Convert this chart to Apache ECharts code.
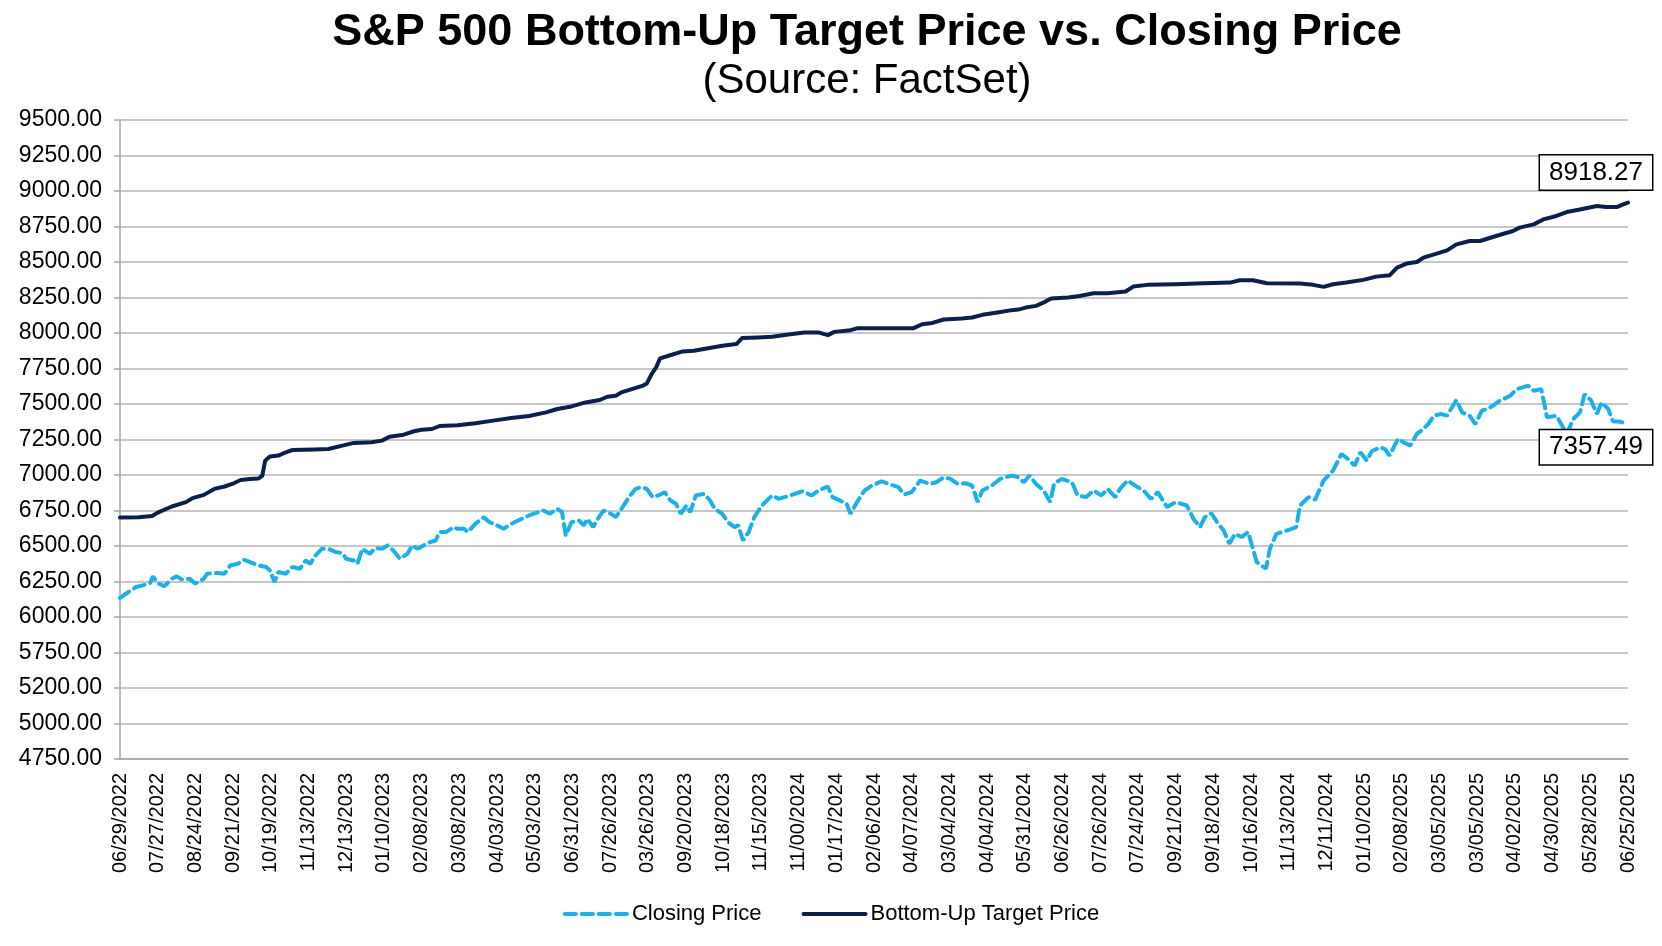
<!DOCTYPE html>
<html>
<head>
<meta charset="utf-8">
<title>S&amp;P 500 Bottom-Up Target Price vs. Closing Price</title>
<script src="https://cdn.jsdelivr.net/npm/echarts@6/dist/echarts.min.js"></script>
<style>
  html, body { margin: 0; padding: 0; background: #fff; }
  #chart { width: 1662px; height: 946px; }
</style>
</head>
<body>
<div id="chart"></div>
<script>
// x tick labels, one every 4 weeks (text as printed in the source)
const tickLabels = [
  '06/29/2022', '07/27/2022', '08/24/2022', '09/21/2022', '10/19/2022', '11/13/2022',
  '12/13/2023', '01/10/2023', '02/08/2023', '03/08/2023', '04/03/2023', '05/03/2023',
  '06/31/2023', '07/26/2023', '03/26/2023', '09/20/2023', '10/18/2023', '11/15/2023',
  '11/00/2024', '01/17/2024', '02/06/2024', '04/07/2024', '03/04/2024', '04/04/2024',
  '05/31/2024', '06/26/2024', '07/26/2024', '07/24/2024', '09/21/2024', '09/18/2024',
  '10/16/2024', '11/13/2024', '12/11/2024', '01/10/2025', '02/08/2025', '03/05/2025',
  '03/05/2025', '04/02/2025', '04/30/2025', '05/28/2025', '06/25/2025'
];

// y tick labels from bottom to top, as printed (the lower ones are not evenly numbered)
const yTickLabels = [
  '4750.00', '5000.00', '5200.00', '5750.00', '6000.00', '6250.00', '6500.00',
  '6750.00', '7000.00', '7250.00', '7500.00', '7750.00', '8000.00', '8250.00',
  '8500.00', '8750.00', '9000.00', '9250.00', '9500.00'
];

// positions in weeks from 06/29/2022
const targetWeek = [
  0, 2, 3.4, 4, 5.5, 7, 7.7, 8.9, 10, 11.1, 11.9, 12.8, 13.8, 14.7, 15.1, 15.4, 15.9,
  16.8, 17.6, 18.3, 20.6, 22.1, 23.6, 24.8, 26.7, 27.8, 28.6, 30.1, 31.2, 32, 33.1,
  33.9, 35.8, 37.7, 39.6, 41.5, 43.4, 45.2, 46.4, 47.9, 49.4, 50.9, 51.7, 52.6, 53.2,
  54.3, 55.5, 55.9, 56.4, 56.9, 57.3, 58.2, 59.7, 60.9, 62.4, 63.9, 65.4, 66, 67.7,
  69.2, 70.7, 72.6, 74.1, 75.1, 75.8, 77.5, 78.3, 84.2, 85.1, 86.2, 87.4, 89.3, 90.4,
  91.5, 93.1, 94.6, 95.3, 96.1, 97.2, 98.2, 98.8, 100.6, 101.8, 103.3, 104.8, 106.7,
  107.5, 109, 112, 115, 117.8, 118.8, 120.2, 121.7, 125.2, 126.6, 127.7, 128.7, 130.1,
  131.9, 133.3, 134.7, 135.5, 136.5, 137.6, 138.3, 139.7, 140.8, 141.8, 143.2, 144.3,
  145.4, 146.8, 147.8, 148.5, 150, 151, 152.4, 153.5, 154.9, 156.7, 157.7, 158.8,
  159.5, 160
];
const targetPrice = [
  6700, 6702, 6712, 6735, 6778, 6809, 6837, 6860, 6902, 6919, 6937, 6965, 6972, 6975,
  6996, 7101, 7130, 7137, 7160, 7176, 7179, 7183, 7207, 7226, 7230, 7242, 7270, 7284,
  7308, 7319, 7324, 7345, 7350, 7364, 7383, 7401, 7415, 7441, 7465, 7483, 7511, 7528,
  7551, 7558, 7582, 7605, 7630, 7645, 7711, 7760, 7821, 7840, 7870, 7875, 7893, 7910,
  7922, 7964, 7968, 7973, 7987, 8004, 8004, 7985, 8008, 8020, 8034, 8034, 8062, 8071,
  8095, 8102, 8109, 8128, 8144, 8161, 8165, 8179, 8191, 8221, 8243, 8250, 8261, 8280,
  8280, 8292, 8327, 8339, 8343, 8350, 8355, 8371, 8371, 8350, 8348, 8339, 8325, 8343,
  8355, 8374, 8397, 8406, 8460, 8489, 8500, 8531, 8559, 8582, 8624, 8648, 8648, 8671,
  8699, 8718, 8742, 8765, 8800, 8824, 8852, 8870, 8894, 8887, 8887, 8906, 8918.27
];

const closeWeek = [
  0, 0.9, 1.7, 2.4, 3.2, 3.5, 4, 4.7, 5.5, 6, 6.6, 7.4, 8, 8.9, 9.25, 10.4, 11.1, 11.7,
  12.5, 13.2, 13.8, 14.7, 15.5, 15.9, 16.4, 16.8, 17.6, 18.3, 19.1, 19.7, 20.2, 20.6,
  21.4, 22.1, 22.9, 23.6, 24, 24.8, 25.2, 25.7, 26.5, 27.1, 27.8, 28.4, 29, 29.7, 30.5,
  31, 31.6, 32.2, 32.9, 33.5, 33.9, 34.6, 35.4, 35.8, 36.5, 36.9, 37.7, 38.6, 39.2, 40,
  40.7, 41.5, 42.6, 43.4, 44.1, 44.9, 45.6, 46.4, 46.9, 47.3, 47.9, 48.7, 49.2, 49.6,
  50.2, 50.7, 51.3, 52.1, 52.6, 53.2, 54, 54.7, 55.3, 55.9, 56.5, 57.1, 57.8, 58.4, 59,
  59.5, 60.1, 60.5, 61.1, 62, 62.6, 63.1, 63.9, 64.5, 65.2, 65.6, 66.1, 66.7, 67.3, 68.1,
  69.2, 69.9, 71.1, 72.4, 73.4, 74.1, 75.1, 75.6, 76.4, 77.1, 77.5, 78.3, 79, 79.8, 80.8,
  81.7, 82.6, 83.2, 84, 84.9, 85.9, 86.6, 87.4, 88.1, 88.9, 89.7, 90.4, 91, 91.5, 92.5,
  93.4, 94.6, 95.3, 95.9, 96.5, 97.2, 98, 98.7, 99.1, 99.9, 101, 101.6, 102.5, 103.3,
  104.1, 104.8, 105.6, 106.1, 106.9, 107.7, 108.6, 109.4, 110.1, 111.1, 112, 113.2,
  113.9, 114.6, 115.1, 115.8, 116.4, 117.1, 117.7, 118.3, 119, 119.7, 120.1, 120.6,
  121.6, 122, 122.7, 123.8, 124.8, 125.2, 126.1, 126.8, 127.7, 128.7, 129.6, 130.3, 131,
  131.6, 132.3, 132.8, 133.7, 134.2, 134.7, 135.6, 136.2, 136.9, 137.6, 138.3, 138.8,
  139.4, 140.2, 140.8, 141.8, 142.4, 143.2, 143.8, 144.5, 145.4, 146.4, 147.5, 148.2,
  149.4, 150, 150.8, 151.4, 152.4, 153.5, 154.2, 154.9, 155.4, 156.1, 156.7, 157.2,
  157.9, 158.4, 159.2, 160
];
const closingPrice = [
  6135, 6176, 6211, 6223, 6239, 6286, 6239, 6216, 6270, 6286, 6263, 6270, 6235, 6270,
  6305, 6310, 6305, 6363, 6375, 6403, 6387, 6363, 6352, 6328, 6246, 6317, 6305, 6352,
  6340, 6398, 6375, 6422, 6480, 6480, 6457, 6450, 6410, 6398, 6375, 6480, 6445, 6487,
  6480, 6504, 6469, 6410, 6445, 6504, 6480, 6504, 6527, 6539, 6598, 6598, 6633, 6621,
  6621, 6598, 6656, 6703, 6668, 6645, 6621, 6656, 6691, 6715, 6731, 6750, 6727, 6762,
  6738, 6574, 6668, 6680, 6645, 6691, 6633, 6691, 6750, 6727, 6703, 6762, 6844, 6902,
  6914, 6902, 6844, 6856, 6879, 6820, 6797, 6727, 6785, 6738, 6856, 6867, 6820, 6762,
  6727, 6668, 6633, 6645, 6539, 6598, 6703, 6785, 6856, 6832, 6856, 6886, 6856, 6891,
  6919, 6844, 6820, 6797, 6727, 6820, 6891, 6926, 6956, 6933, 6914, 6863, 6879, 6961,
  6937, 6949, 6984, 6973, 6937, 6942, 6926, 6809, 6891, 6926, 6973, 6996, 6984, 6949,
  6996, 6937, 6891, 6809, 6937, 6973, 6949, 6856, 6844, 6891, 6856, 6902, 6844, 6902,
  6961, 6926, 6891, 6832, 6879, 6774, 6809, 6785, 6691, 6633, 6703, 6731, 6668, 6609,
  6516, 6586, 6563, 6598, 6504, 6387, 6340, 6480, 6586, 6609, 6633, 6785, 6844, 6825,
  6961, 7031, 7148, 7113, 7066, 7160, 7101, 7167, 7195, 7183, 7136, 7254, 7230, 7207,
  7289, 7324, 7359, 7418, 7429, 7418, 7528, 7441, 7418, 7359, 7453, 7476, 7523, 7558,
  7605, 7629, 7593, 7605, 7406, 7418, 7289, 7394, 7441, 7570, 7523, 7429, 7511, 7465,
  7378, 7375, 7357.49
];

const NAVY = '#0b1f4b';
const SKY = '#1bb0ea';
const FONT = '"Liberation Sans", Arial, sans-serif';

const pairs = (xs, ys) => xs.map((x, i) => [x, ys[i]]);
const lastTarget = targetPrice[targetPrice.length - 1];
const lastClose = closingPrice[closingPrice.length - 1];
const lastWeek = targetWeek[targetWeek.length - 1];

const boxLabel = (offset) => ({
  show: true,
  position: 'inside',
  offset: offset,
  formatter: (p) => p.value.toFixed(2),
  color: '#000',
  fontFamily: FONT,
  fontSize: 26,
  backgroundColor: '#fff',
  borderColor: '#000',
  borderWidth: 1.5,
  padding: [5, 9, 3, 9],
});

const chart = echarts.init(document.getElementById('chart'));
chart.setOption({
  backgroundColor: '#fff',
  animation: false,
  title: [
    {
      text: 'S&P 500 Bottom-Up Target Price vs. Closing Price',
      left: 862,
      textAlign: 'center',
      top: 3,
      textStyle: { fontFamily: FONT, fontSize: 45, fontWeight: 'bold', color: '#000', lineHeight: 50 },
    },
    {
      text: '(Source: FactSet)',
      left: 862,
      textAlign: 'center',
      top: 53,
      textStyle: { fontFamily: FONT, fontSize: 42, fontWeight: 'normal', color: '#000', lineHeight: 46 },
    },
  ],
  legend: {
    bottom: 16,
    left: 'center',
    itemWidth: 62,
    itemHeight: 14,
    itemGap: 40,
    itemStyle: { opacity: 0 },
    lineStyle: { width: 4 },
    textStyle: { fontFamily: FONT, fontSize: 22, color: '#000' },
    data: ['Closing Price', 'Bottom-Up Target Price'],
  },
  grid: { left: 120, right: 34, top: 120, bottom: 187 },
  xAxis: {
    type: 'value',
    min: 0,
    max: 160,
    interval: 4,
    splitLine: { show: false },
    axisLine: { show: true, lineStyle: { color: '#a6a6a6', width: 1.5 } },
    axisTick: { show: false },
    axisLabel: {
      rotate: 90,
      margin: 14,
      fontFamily: FONT,
      fontSize: 20,
      color: '#000',
      formatter: (v) => tickLabels[Math.round(v / 4)],
    },
  },
  yAxis: {
    type: 'value',
    min: 5000,
    max: 9500,
    interval: 250,
    axisLine: { show: true, lineStyle: { color: '#a6a6a6', width: 1.5 } },
    axisTick: { show: true, length: 6, lineStyle: { color: '#a6a6a6', width: 1.5 } },
    splitLine: { show: true, lineStyle: { color: '#b4b4b4', width: 1.5 } },
    axisLabel: {
      margin: 18,
      fontFamily: FONT,
      fontSize: 23,
      color: '#000',
      formatter: (v) => yTickLabels[Math.round((v - 5000) / 250)],
    },
  },
  series: [
    {
      name: 'Closing Price',
      type: 'line',
      symbol: 'none',
      z: 3,
      lineStyle: { color: SKY, width: 4, type: [11, 6], cap: 'round' },
      itemStyle: { color: SKY },
      data: pairs(closeWeek, closingPrice),
      markPoint: {
        symbol: 'circle',
        symbolSize: 0,
        data: [{ coord: [lastWeek, lastClose], value: lastClose, label: boxLabel([-32, 23]) }],
      },
    },
    {
      name: 'Bottom-Up Target Price',
      type: 'line',
      symbol: 'none',
      z: 4,
      lineStyle: { color: NAVY, width: 4, cap: 'round', join: 'round' },
      itemStyle: { color: NAVY },
      data: pairs(targetWeek, targetPrice),
      markPoint: {
        symbol: 'circle',
        symbolSize: 0,
        data: [{ coord: [lastWeek, lastTarget], value: lastTarget, label: boxLabel([-32, -30]) }],
      },
    },
  ],
});
</script>
</body>
</html>
